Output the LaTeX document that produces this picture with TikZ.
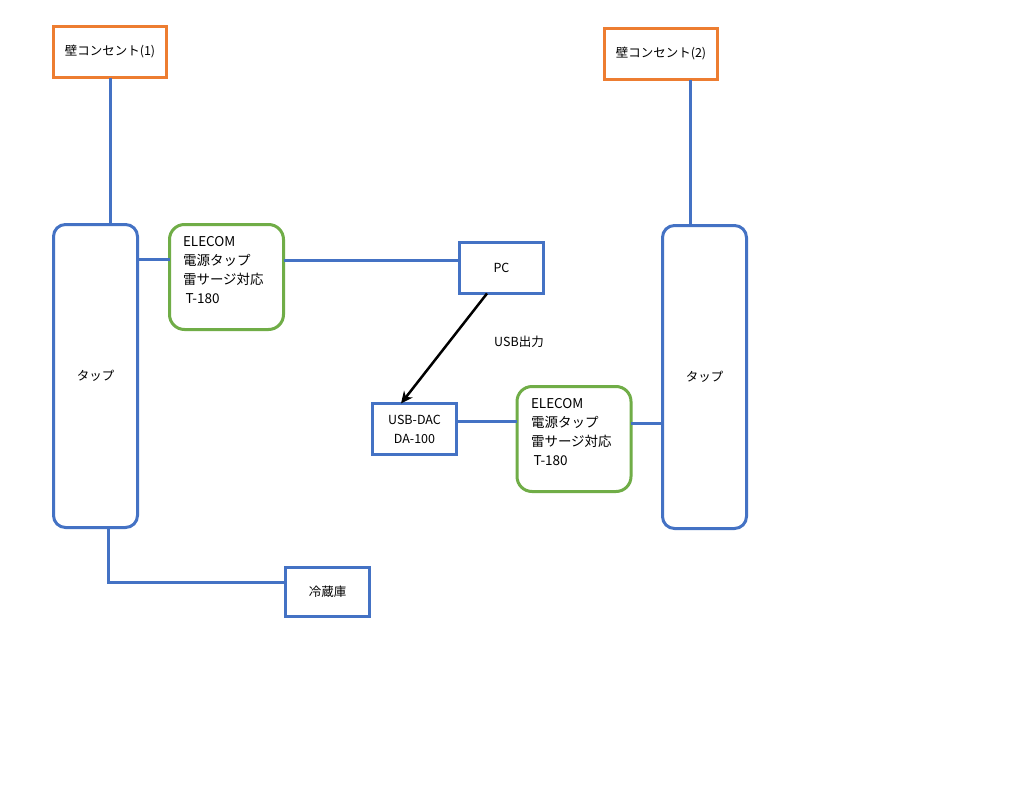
\documentclass[tikz,border=0pt]{standalone}
\usepackage{fontspec}
\setmainfont{Noto Sans CJK JP}
\usetikzlibrary{arrows.meta,calc}
\definecolor{cblue}{HTML}{4472C4}
\definecolor{corange}{HTML}{ED7D31}
\definecolor{cgreen}{HTML}{70AD47}
\begin{document}
\begin{tikzpicture}[x=1pt,y=-1pt,
  every node/.style={font=\fontsize{12.5}{19}\selectfont, inner sep=0pt, outer sep=0pt},
  wallbox/.style={draw=corange, line width=3pt, fill=white, minimum width=113pt, minimum height=51pt},
  bluebox/.style={draw=cblue, line width=3pt, fill=white, minimum width=84pt, minimum height=51pt},
  tapbox/.style={draw=cblue, line width=3pt, fill=white, rounded corners=12pt, minimum width=84pt, minimum height=303pt},
  elecombox/.style={draw=cgreen, line width=3pt, fill=white, rounded corners=15pt, minimum width=114pt, minimum height=105pt},
  wire/.style={draw=cblue, line width=3pt},
  usbarrow/.style={draw=black, line width=2.5pt, -{Stealth[length=12pt,width=11pt]}},
  txt/.style={align=left, anchor=west, font=\fontsize{13.5}{19}\selectfont}]
\useasboundingbox (0,0) rectangle (1024,800);
\fill[white] (0,0) rectangle (1024,800);

\node[wallbox] (wall1) at (110,52) {壁コンセント(1)};
\node[wallbox] (wall2) at (661,54) {壁コンセント(2)};
\node[tapbox] (tapL) at (95.5,376) {タップ};
\node[tapbox] (tapR) at (704.5,377) {タップ};
\node[elecombox] (elecomL) at (226.5,277) {};
\node[txt] (elecomLtext) at (183,270) {ELECOM\\電源タップ\\雷サージ対応\\\hspace{2.5pt}T-180};
\node[elecombox] (elecomR) at (574,439) {};
\node[txt] (elecomRtext) at (531,432) {ELECOM\\電源タップ\\雷サージ対応\\\hspace{2.5pt}T-180};
\node[bluebox] (pc) at (501.5,268) {PC};
\node[bluebox, align=center] (dac) at (414.5,429) {USB-DAC\\DA-100};
\node[bluebox, minimum height=49pt] (fridge) at (327.5,592) {冷蔵庫};
\node (usblabel) at (519,342) {USB出力};

\draw[wire] (wall1.south) -- (wall1.south |- tapL.north);
\draw[wire] ([xshift=29pt]wall2.south) -- ([xshift=29pt]wall2.south |- tapR.north);
\draw[wire] ([yshift=18pt]elecomL.west) -- ([yshift=18pt]elecomL.west -| tapL.east);
\draw[wire] ([yshift=8pt]pc.west) -- ([yshift=8pt]pc.west -| elecomL.east);
\draw[wire] ([yshift=8pt]dac.east) -- ([yshift=8pt]dac.east -| elecomR.west);
\draw[wire] ([yshift=16pt]elecomR.east) -- ([yshift=16pt]elecomR.east -| tapR.west);
\draw[wire] ([xshift=12.5pt]tapL.south) |- ([yshift=10pt]fridge.west);
\draw[usbarrow] ([xshift=-14.5pt]pc.south) -- ([xshift=-13.5pt]dac.north);
\end{tikzpicture}
\end{document}
